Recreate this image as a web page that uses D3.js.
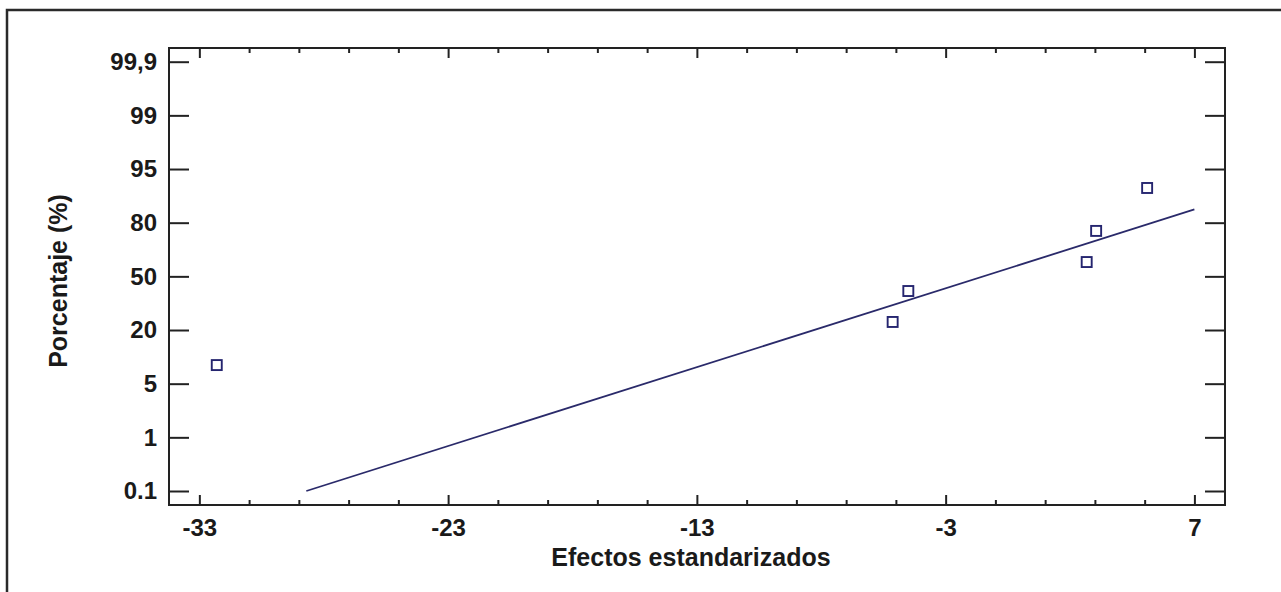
<!DOCTYPE html>
<html>
<head>
<meta charset="utf-8">
<script src="https://cdn.jsdelivr.net/npm/d3@7/dist/d3.min.js"></script>
<style>
  html, body { margin: 0; padding: 0; background: #fff; }
  svg { display: block; }
  text { font-family: "Liberation Sans", Arial, sans-serif; font-weight: bold; fill: #1a1a1a; }
</style>
</head>
<body>
<svg id="chart" width="1281" height="592"></svg>
<script>
// Normal probability plot of standardized effects
const probTicks = [0.1, 1, 5, 20, 50, 80, 95, 99, 99.9];
const probTickLabels = ["0.1", "1", "5", "20", "50", "80", "95", "99", "99,9"];
const effectMajorTicks = [-33, -23, -13, -3, 7];
const effectMinorTicks = [-31, -29, -27, -25, -21, -19, -17, -15, -11, -9, -7, -5, -1, 1, 3, 5];

const effects = [-32.3, -5.13, -4.5, 2.67, 3.05, 5.1];
const percents = [10.2, 24.5, 41.8, 58.0, 75.4, 89.7];

const fitEffects = [-28.7, 7.0];
const fitPercents = [0.1, 83.7];

const svg = d3.select("#chart");
const W = 1281, H = 592;
const plot = { left: 169, right: 1225, top: 48, bottom: 505 };

// outer frame (runs off the right and bottom edges)
svg.append("rect")
  .attr("x", 7).attr("y", 10)
  .attr("width", W + 20).attr("height", H + 20)
  .attr("fill", "#fff")
  .attr("stroke", "#2a2a2a")
  .attr("stroke-width", 2.5);

const x = d3.scaleLinear()
  .domain([-34.22, 8.23])
  .range([plot.left, plot.right]);

// probability axis with evenly spaced reference levels
const step = (491 - 61.7) / (probTicks.length - 1);
const y = d3.scaleLinear()
  .domain(probTicks)
  .range(probTicks.map((d, i) => 491 - i * step));

const axisColor = "#222";

function styleAxis(g) {
  g.select(".domain").remove();
  g.selectAll(".tick line").attr("stroke", axisColor).attr("stroke-width", 2);
  g.selectAll(".tick text").attr("fill", "#1a1a1a").style("font-size", "24px")
    .style("font-family", '"Liberation Sans", Arial, sans-serif').style("font-weight", "bold");
}

// bottom axis: major ticks with labels, minor ticks without
svg.append("g")
  .attr("transform", `translate(0,${plot.bottom})`)
  .call(d3.axisBottom(x).tickValues(effectMajorTicks).tickSize(-10).tickPadding(14).tickFormat(d3.format("d")))
  .call(styleAxis)
  .call(g => g.selectAll(".tick text").text(d => d < 0 ? "-" + Math.abs(d) : d));
svg.append("g")
  .attr("transform", `translate(0,${plot.bottom})`)
  .call(d3.axisBottom(x).tickValues(effectMinorTicks).tickSize(-5).tickFormat(""))
  .call(styleAxis);

// top axis ticks
svg.append("g")
  .attr("transform", `translate(0,${plot.top})`)
  .call(d3.axisTop(x).tickValues(effectMajorTicks).tickSize(-10).tickFormat(""))
  .call(styleAxis);
svg.append("g")
  .attr("transform", `translate(0,${plot.top})`)
  .call(d3.axisTop(x).tickValues(effectMinorTicks).tickSize(-5).tickFormat(""))
  .call(styleAxis);

// left axis with labels
svg.append("g")
  .attr("transform", `translate(${plot.left},0)`)
  .call(d3.axisLeft(y).tickValues(probTicks).tickSize(-20).tickPadding(12)
    .tickFormat((d, i) => probTickLabels[i]))
  .call(styleAxis);

// right axis ticks
svg.append("g")
  .attr("transform", `translate(${plot.right},0)`)
  .call(d3.axisRight(y).tickValues(probTicks).tickSize(-20).tickFormat(""))
  .call(styleAxis);

// plot frame
svg.append("rect")
  .attr("x", plot.left).attr("y", plot.top)
  .attr("width", plot.right - plot.left).attr("height", plot.bottom - plot.top)
  .attr("fill", "none")
  .attr("stroke", axisColor)
  .attr("stroke-width", 2);

// reference line
const fitData = fitEffects.map((e, i) => [e, fitPercents[i]]);
svg.append("path")
  .datum(fitData)
  .attr("d", d3.line().x(d => x(d[0])).y(d => y(d[1])))
  .attr("fill", "none")
  .attr("stroke", "#2a2a6a")
  .attr("stroke-width", 1.8);

// effect points
const pts = effects.map((e, i) => [e, percents[i]]);
const sq = 10;
svg.append("g").selectAll("rect")
  .data(pts)
  .join("rect")
  .attr("x", d => x(d[0]) - sq / 2)
  .attr("y", d => y(d[1]) - sq / 2)
  .attr("width", sq).attr("height", sq)
  .attr("fill", "none")
  .attr("stroke", "#25256f")
  .attr("stroke-width", 1.9);

// axis titles
svg.append("text")
  .attr("x", 691).attr("y", 566)
  .attr("text-anchor", "middle")
  .style("font-size", "25px")
  .text("Efectos estandarizados");

svg.append("text")
  .attr("transform", "translate(67,281) rotate(-90)")
  .attr("text-anchor", "middle")
  .style("font-size", "25px")
  .text("Porcentaje (%)");
</script>
</body>
</html>
